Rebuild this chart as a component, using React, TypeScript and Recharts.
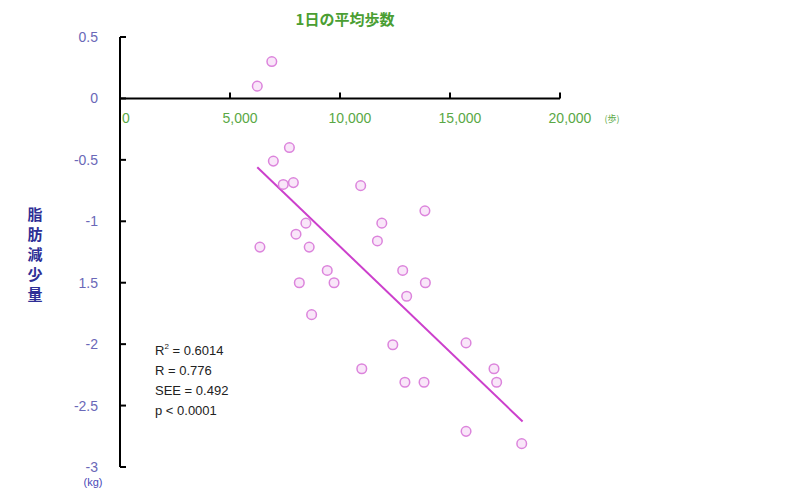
import { FC } from "react";
import {
  ReferenceDot,
  ReferenceLine,
  Scatter,
  ScatterChart,
  XAxis,
  YAxis,
} from "recharts";

// average daily steps vs. fat loss (kg)
const steps: number[] = [
  6240, 6900, 7700, 6970, 7880, 7420, 10940, 13860, 11900, 8450,
  8000, 11700, 6360, 8600, 9420, 12850, 8150, 9730, 13880, 13030,
  8710, 12400, 15730, 10990, 17000, 12950, 13820, 17120, 15730, 18260,
];
const fatLoss: number[] = [
  0.1, 0.3, -0.4, -0.51, -0.685, -0.7, -0.71, -0.915, -1.015, -1.015,
  -1.105, -1.16, -1.21, -1.21, -1.4, -1.4, -1.5, -1.5, -1.5, -1.61,
  -1.76, -2.005, -1.99, -2.2, -2.2, -2.31, -2.31, -2.31, -2.71, -2.81,
];

const fitSteps: number[] = [6240, 18300];
const fitLoss: number[] = [-0.56, -2.63];

const xTicks: number[] = [0, 5000, 10000, 15000, 20000];
const xTickLabels: string[] = ["0", "5,000", "10,000", "15,000", "20,000"];
const yTicks: number[] = [0.5, 0, -0.5, -1, -1.5, -2, -2.5, -3];
const yTickLabels: string[] = ["0.5", "0", "-0.5", "-1", "1.5", "-2", "-2.5", "-3"];

const stats: string[] = ["R = 0.776", "SEE = 0.492", "p < 0.0001"];

const points = steps.map((s, i) => ({ steps: s, loss: fatLoss[i] }));

const FONT = "'Liberation Sans', Arial, sans-serif";
const JP = "'Noto Sans CJK JP', sans-serif";

const Dot = (props: any) => (
  <circle
    cx={props.cx}
    cy={props.cy}
    r={4.8}
    fill="#f9e6f9"
    stroke="#dc84dc"
    strokeWidth={1.5}
  />
);

const YTick = (props: any) => {
  const { x, y, index } = props;
  return (
    <g>
      <line x1={x} y1={y} x2={x + 6} y2={y} stroke="#000" strokeWidth={2} />
      <text
        x={x - 22}
        y={y + 5}
        textAnchor="end"
        fontSize={14}
        fontFamily={FONT}
        fill="#6a68b8"
      >
        {yTickLabels[index]}
      </text>
    </g>
  );
};

const App: FC = () => {
  return (
    <div style={{ position: "absolute", left: 0, top: 0 }}>
      <ScatterChart
        width={800}
        height={488}
        margin={{ top: 37, right: 240, bottom: 21, left: 0 }}
      >
        <XAxis
          type="number"
          dataKey="steps"
          domain={[0, 20000]}
          ticks={xTicks}
          hide
        />
        <YAxis
          type="number"
          dataKey="loss"
          domain={[-3, 0.5]}
          ticks={yTicks}
          width={120}
          tickSize={0}
          tickMargin={0}
          tickLine={false}
          axisLine={{ stroke: "#000", strokeWidth: 2 }}
          tick={<YTick />}
          interval={0}
        />
        <ReferenceLine y={0} stroke="#000" strokeWidth={2} />
        {xTicks.map((v, i) => (
          <ReferenceDot
            key={`xt-${v}`}
            x={v}
            y={0}
            r={0}
            ifOverflow="visible"
            shape={(p: any) => (
              <g>
                {i > 0 && (
                  <line
                    x1={p.cx}
                    y1={p.cy}
                    x2={p.cx}
                    y2={p.cy - 6}
                    stroke="#000"
                    strokeWidth={2}
                  />
                )}
                <text
                  x={p.cx + (i === 0 ? 6 : 10)}
                  y={p.cy + 25}
                  textAnchor="middle"
                  fontSize={14}
                  fontFamily={FONT}
                  fill="#5aa845"
                >
                  {xTickLabels[i]}
                </text>
                {i === xTicks.length - 1 && (
                  <text
                    x={p.cx + 52}
                    y={p.cy + 24}
                    textAnchor="middle"
                    fontSize={9}
                    fontFamily={JP}
                    fill="#5aa845"
                  >
                    (歩)
                  </text>
                )}
              </g>
            )}
          />
        ))}
        <ReferenceLine
          segment={[
            { x: fitSteps[0], y: fitLoss[0] },
            { x: fitSteps[1], y: fitLoss[1] },
          ]}
          stroke="#cc40cc"
          strokeWidth={2}
        />
        <Scatter
          data={points}
          shape={<Dot />}
          isAnimationActive={false}
        />
      </ScatterChart>
      <svg
        width={800}
        height={488}
        style={{ position: "absolute", left: 0, top: 0, pointerEvents: "none" }}
      >
        <text
          x={345}
          y={25}
          textAnchor="middle"
          fontSize={15}
          fontWeight="bold"
          fontFamily={JP}
          fill="#4a9e32"
        >
          1日の平均歩数
        </text>
        {"脂肪減少量".split("").map((c, i) => (
          <text
            key={c + i}
            x={35}
            y={220 + i * 20}
            textAnchor="middle"
            fontSize={15}
            fontWeight="bold"
            fontFamily={JP}
            fill="#2e2e96"
          >
            {c}
          </text>
        ))}
        <text
          x={93}
          y={486}
          textAnchor="middle"
          fontSize={11}
          fontFamily={FONT}
          fill="#4a4ab8"
        >
          (kg)
        </text>
        <text x={155} y={355} fontSize={13} fontFamily={FONT} fill="#222">
          R<tspan dy={-6} fontSize={8}>2</tspan>
          <tspan dy={6}> = 0.6014</tspan>
        </text>
        {stats.map((s, i) => (
          <text
            key={s}
            x={155}
            y={375 + i * 20}
            fontSize={13}
            fontFamily={FONT}
            fill="#222"
          >
            {s}
          </text>
        ))}
      </svg>
    </div>
  );
};

export default App;
